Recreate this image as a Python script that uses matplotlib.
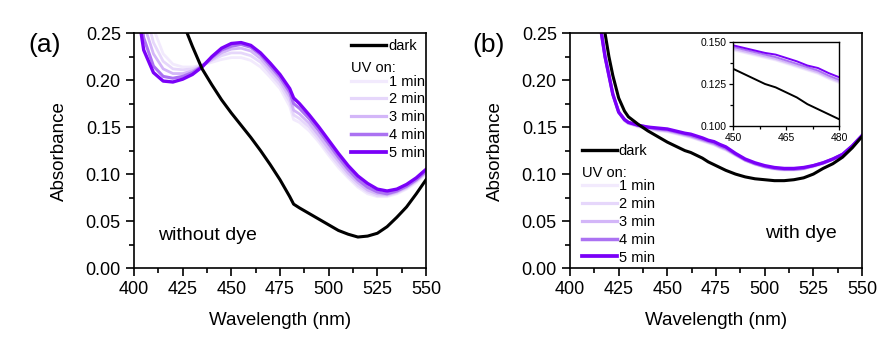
import matplotlib
matplotlib.use("Agg")
import matplotlib.pyplot as plt
from matplotlib.ticker import MultipleLocator, AutoMinorLocator
from matplotlib.lines import Line2D

plt.rcParams["font.family"] = ["Liberation Sans", "DejaVu Sans"]

# ---- (a) without dye ----
wl_a = [400, 405, 410, 415, 420, 425, 430, 435, 440, 445, 450, 455, 460, 465,
        470, 475, 480, 482, 485, 490, 495, 500, 505, 510, 515, 520, 525, 530,
        535, 540, 545, 550]
dark_a = [0.41, 0.38, 0.35, 0.32, 0.29, 0.262, 0.236, 0.212, 0.195, 0.179,
          0.165, 0.152, 0.139, 0.125, 0.110, 0.094, 0.076, 0.068, 0.064, 0.058,
          0.052, 0.046, 0.040, 0.036, 0.033, 0.034, 0.037, 0.044, 0.054, 0.065,
          0.079, 0.094]
uv1_a = [0.38, 0.30, 0.255, 0.228, 0.217, 0.214, 0.214, 0.216, 0.219, 0.222,
         0.224, 0.224, 0.221, 0.214, 0.203, 0.191, 0.172, 0.158, 0.155, 0.146,
         0.134, 0.120, 0.107, 0.096, 0.086, 0.079, 0.076, 0.076, 0.079, 0.084,
         0.091, 0.100]
uv2_a = [0.36, 0.28, 0.240, 0.220, 0.212, 0.211, 0.212, 0.216, 0.221, 0.226,
         0.229, 0.229, 0.226, 0.219, 0.207, 0.195, 0.177, 0.163, 0.159, 0.150,
         0.137, 0.123, 0.110, 0.098, 0.088, 0.081, 0.077, 0.077, 0.080, 0.085,
         0.092, 0.101]
uv3_a = [0.34, 0.26, 0.228, 0.212, 0.207, 0.207, 0.210, 0.215, 0.222, 0.229,
         0.233, 0.234, 0.231, 0.223, 0.211, 0.199, 0.182, 0.168, 0.164, 0.154,
         0.141, 0.127, 0.114, 0.101, 0.091, 0.083, 0.079, 0.078, 0.081, 0.086,
         0.093, 0.102]
uv4_a = [0.32, 0.245, 0.215, 0.204, 0.202, 0.204, 0.208, 0.215, 0.224, 0.232,
         0.236, 0.238, 0.235, 0.227, 0.215, 0.203, 0.187, 0.175, 0.170, 0.159,
         0.146, 0.132, 0.118, 0.105, 0.094, 0.086, 0.081, 0.079, 0.082, 0.087,
         0.094, 0.103]
uv5_a = [0.30, 0.232, 0.208, 0.199, 0.198, 0.201, 0.206, 0.214, 0.225, 0.234,
         0.239, 0.240, 0.237, 0.229, 0.218, 0.206, 0.191, 0.181, 0.175, 0.163,
         0.150, 0.136, 0.122, 0.109, 0.098, 0.090, 0.084, 0.082, 0.084, 0.089,
         0.096, 0.105]

# ---- (b) with dye ----
wl_b = [400, 405, 410, 415, 418, 420, 422, 425, 428, 430, 435, 440, 445, 450,
        453, 456, 459, 462, 465, 468, 471, 474, 477, 480, 485, 490, 495, 500,
        505, 510, 515, 520, 525, 530, 535, 540, 545, 550]
dark_b = [0.60, 0.45, 0.35, 0.28, 0.25, 0.225, 0.205, 0.181, 0.167, 0.161,
          0.153, 0.146, 0.140, 0.134, 0.131, 0.128, 0.125, 0.123, 0.120, 0.117,
          0.113, 0.110, 0.107, 0.104, 0.100, 0.097, 0.095, 0.094, 0.093, 0.093,
          0.094, 0.096, 0.100, 0.106, 0.111, 0.118, 0.128, 0.140]
uv1_b = [0.60, 0.42, 0.32, 0.265, 0.225, 0.205, 0.185, 0.166, 0.157, 0.154,
         0.150, 0.148, 0.146, 0.145, 0.1435, 0.142, 0.1405, 0.139, 0.137,
         0.135, 0.133, 0.131, 0.128, 0.1255, 0.120, 0.114, 0.110, 0.107,
         0.105, 0.104, 0.104, 0.105, 0.108, 0.111, 0.115, 0.120, 0.129, 0.140]
uv2_b = [0.60, 0.42, 0.32, 0.265, 0.225, 0.205, 0.185, 0.166, 0.157, 0.154,
         0.151, 0.149, 0.147, 0.1455, 0.144, 0.1425, 0.141, 0.1395, 0.1375,
         0.1355, 0.1335, 0.1315, 0.1285, 0.126, 0.120, 0.115, 0.111, 0.108,
         0.106, 0.105, 0.105, 0.106, 0.108, 0.111, 0.116, 0.120, 0.129, 0.140]
uv3_b = [0.60, 0.42, 0.32, 0.265, 0.225, 0.205, 0.185, 0.166, 0.157, 0.154,
         0.151, 0.149, 0.147, 0.146, 0.1445, 0.143, 0.1415, 0.140, 0.138,
         0.136, 0.134, 0.132, 0.129, 0.1265, 0.121, 0.115, 0.111, 0.108,
         0.106, 0.105, 0.105, 0.106, 0.109, 0.112, 0.116, 0.121, 0.130, 0.141]
uv4_b = [0.60, 0.42, 0.32, 0.265, 0.225, 0.205, 0.185, 0.166, 0.158, 0.155,
         0.152, 0.150, 0.148, 0.147, 0.1455, 0.144, 0.1425, 0.141, 0.139,
         0.137, 0.135, 0.133, 0.130, 0.1275, 0.121, 0.115, 0.111, 0.108,
         0.106, 0.105, 0.105, 0.106, 0.109, 0.112, 0.116, 0.121, 0.130, 0.141]
uv5_b = [0.60, 0.42, 0.32, 0.265, 0.225, 0.205, 0.185, 0.166, 0.158, 0.155,
         0.152, 0.150, 0.149, 0.148, 0.1465, 0.145, 0.1435, 0.1425, 0.1405,
         0.1385, 0.136, 0.1345, 0.1315, 0.129, 0.122, 0.116, 0.112, 0.109,
         0.107, 0.106, 0.106, 0.107, 0.109, 0.112, 0.116, 0.121, 0.130, 0.141]

uv_labels = ["1 min", "2 min", "3 min", "4 min", "5 min"]
uv_colors = ["#f2eafd", "#e6d7fb", "#d3b6f8", "#ab72f2", "#7a00f8"]
uv_widths = [2.0, 2.0, 2.0, 2.2, 2.4]

fig = plt.figure(figsize=(8.92, 3.49), dpi=100)
ax_a = fig.add_axes([0.1502, 0.232, 0.3274, 0.673])
ax_b = fig.add_axes([0.6390, 0.232, 0.3274, 0.673])


def draw_panel(ax, wl, dark, series):
    for vals, col, lw in zip(series, uv_colors, uv_widths):
        ax.plot(wl, vals, color=col, lw=lw, solid_joinstyle="round")
    ax.plot(wl, dark, color="black", lw=2.2, solid_joinstyle="round")
    ax.set_xlim(400, 550)
    ax.set_ylim(0, 0.25)
    ax.xaxis.set_major_locator(MultipleLocator(25))
    ax.xaxis.set_minor_locator(AutoMinorLocator(2))
    ax.yaxis.set_major_locator(MultipleLocator(0.05))
    ax.yaxis.set_minor_locator(AutoMinorLocator(2))
    ax.yaxis.set_major_formatter(plt.FormatStrFormatter("%.2f"))
    ax.tick_params(which="both", direction="out", top=False, right=False,
                   labelsize=13)
    ax.tick_params(which="major", length=6, width=1.2)
    ax.tick_params(which="minor", length=3.5, width=1.2)
    for sp in ax.spines.values():
        sp.set_linewidth(1.2)
    ax.set_xlabel("Wavelength (nm)", fontsize=13.5, labelpad=10)
    ax.set_ylabel("Absorbance", fontsize=13.5, labelpad=13)


def draw_legend(ax, loc, anchor):
    dark_h = Line2D([], [], color="black", lw=2.4)
    blank = Line2D([], [], color="none")
    uv_h = [Line2D([], [], color=c, lw=w + 0.3) for c, w in zip(uv_colors, uv_widths)]
    leg = ax.legend([dark_h, blank] + uv_h, ["dark", ""] + uv_labels,
                    loc=loc, bbox_to_anchor=anchor, frameon=False,
                    fontsize=10.5, handlelength=2.4, handletextpad=0.15,
                    labelspacing=0.26, borderpad=0.0, borderaxespad=0.0)
    return leg


draw_panel(ax_a, wl_a, dark_a, [uv1_a, uv2_a, uv3_a, uv4_a, uv5_a])
draw_panel(ax_b, wl_b, dark_b, [uv1_b, uv2_b, uv3_b, uv4_b, uv5_b])

leg_a = draw_legend(ax_a, "upper right", (0.995, 0.975))
leg_b = draw_legend(ax_b, "lower left", (0.04, 0.015))

# "UV on:" header sits at the left edge of the handle column
fig.canvas.draw()
for leg, ax in [(leg_a, ax_a), (leg_b, ax_b)]:
    h = leg.legend_handles[0]
    t = leg.get_texts()[1]
    hb = h.get_window_extent()
    tb = t.get_window_extent()
    inv = ax.transAxes.inverted()
    x0 = inv.transform((hb.x0, 0))[0]
    y0 = inv.transform((0, (tb.y0 + tb.y1) / 2))[1]
    ax.text(x0, y0, "UV on:", transform=ax.transAxes, fontsize=10.5,
            ha="left", va="center")

ax_a.text(0.082, 0.119, "without dye", transform=ax_a.transAxes, fontsize=14,
          va="baseline")
ax_b.text(0.668, 0.128, "with dye", transform=ax_b.transAxes, fontsize=14,
          va="baseline")

fig.text(0.050, 0.872, "(a)", fontsize=19, ha="center", va="center")
fig.text(0.548, 0.872, "(b)", fontsize=19, ha="center", va="center")

# inset zoom on 450-480 nm
ax_in = fig.add_axes([0.822, 0.639, 0.1188, 0.2407])
for vals, col in zip([uv1_b, uv2_b, uv3_b, uv4_b, uv5_b], uv_colors):
    ax_in.plot(wl_b, vals, color=col, lw=1.4)
ax_in.plot(wl_b, dark_b, color="black", lw=1.4)
ax_in.set_xlim(450, 480)
ax_in.set_ylim(0.100, 0.150)
ax_in.set_xticks([450, 465, 480])
ax_in.set_yticks([0.100, 0.125, 0.150])
ax_in.xaxis.set_minor_locator(AutoMinorLocator(2))
ax_in.yaxis.set_minor_locator(AutoMinorLocator(2))
ax_in.yaxis.set_major_formatter(plt.FormatStrFormatter("%.3f"))
ax_in.tick_params(which="both", direction="out", top=False, right=False,
                  labelsize=7.5, pad=2)
ax_in.tick_params(which="major", length=3, width=0.9)
ax_in.tick_params(which="minor", length=2, width=0.9)
for sp in ax_in.spines.values():
    sp.set_linewidth(1.0)

fig.savefig("out.png", dpi=100)
